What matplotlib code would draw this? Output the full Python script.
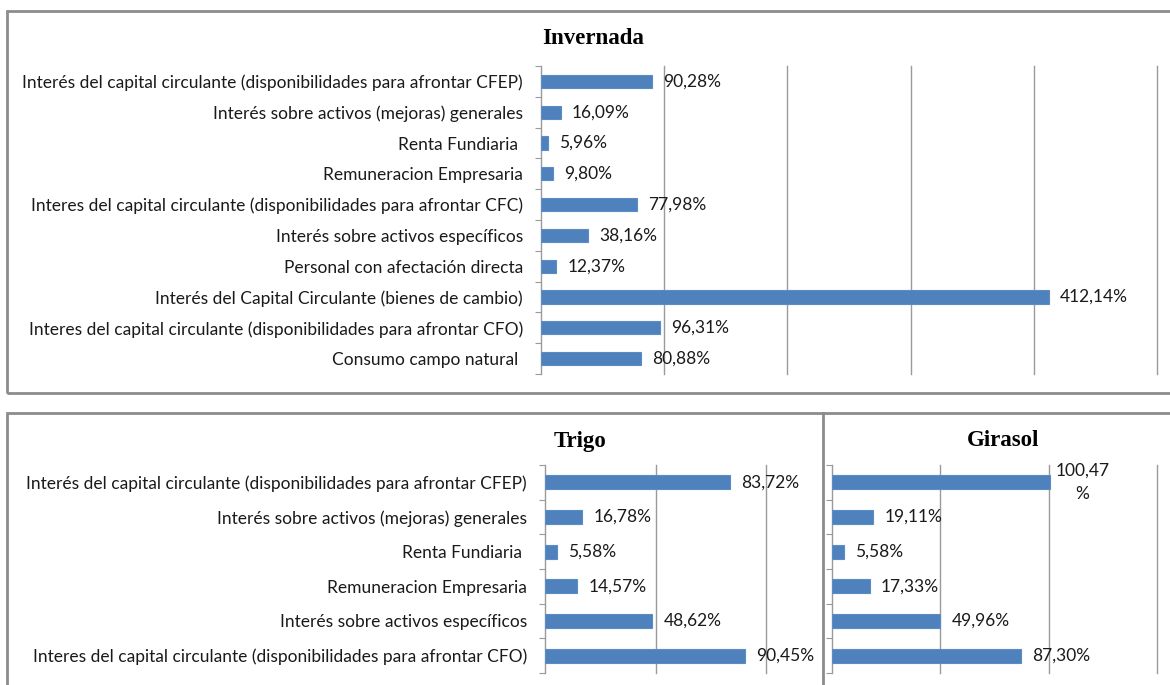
import matplotlib
matplotlib.use("Agg")
import matplotlib.pyplot as plt
from matplotlib.patches import Rectangle
from matplotlib.lines import Line2D

W, H = 1170, 685
DPI = 100

# ---------------- data ----------------
inv_categories = [
    "Interés del capital circulante (disponibilidades para afrontar CFEP)",
    "Interés sobre activos (mejoras) generales",
    "Renta Fundiaria ",
    "Remuneracion Empresaria",
    "Interes del capital circulante (disponibilidades para afrontar CFC)",
    "Interés sobre activos específicos",
    "Personal con afectación directa",
    "Interés del Capital Circulante (bienes de cambio)",
    "Interes del capital circulante (disponibilidades para afrontar CFO)",
    "Consumo campo natural ",
]
inv_values = [90.28, 16.09, 5.96, 9.80, 77.98, 38.16, 12.37, 412.14, 96.31, 80.88]

crop_categories = [
    "Interés del capital circulante (disponibilidades para afrontar CFEP)",
    "Interés sobre activos (mejoras) generales",
    "Renta Fundiaria ",
    "Remuneracion Empresaria",
    "Interés sobre activos específicos",
    "Interes del capital circulante (disponibilidades para afrontar CFO)",
]
trigo_values = [83.72, 16.78, 5.58, 14.57, 48.62, 90.45]
girasol_values = [100.47, 19.11, 5.58, 17.33, 49.96, 87.30]

inv_title = "Invernada"
trigo_title = "Trigo"
girasol_title = "Girasol"

BAR = "#4F81BD"
BAR_EDGE = "#5B8CC6"
GRID = "#9a9a9a"
FRAME = "#8c8c8c"
LABEL_FONT = "Lato"
TITLE_FONT = "Liberation Serif"
LFS = 12.5

fig = plt.figure(figsize=(W / DPI, H / DPI), dpi=DPI)
fig.patch.set_facecolor("white")


def px_axes(x0, y0, x1, y1):
    return fig.add_axes([x0 / W, 1 - y1 / H, (x1 - x0) / W, (y1 - y0) / H])


def fmt(v):
    return f"{v:.2f}%".replace(".", ",")


def draw_bars(ax, cats, vals, xmax, step, height, labels=True, wrap=None):
    n = len(cats)
    ys = list(range(n))
    ax.barh(ys, vals, height=height, color=BAR, edgecolor=BAR_EDGE, linewidth=0.8, zorder=3)
    ax.set_xlim(0, xmax)
    ax.set_ylim(n - 0.5, -0.5)
    ax.set_xticks([step * k for k in range(1, int(xmax / step) + 1)])
    ax.set_xticklabels([])
    ax.tick_params(axis="x", length=0)
    ax.grid(axis="x", color=GRID, linewidth=1.0, zorder=0)
    for gl in ax.get_xgridlines():
        gl.set_clip_on(False)
    ax.set_yticks(ys)
    if labels:
        ax.set_yticklabels(cats, fontsize=LFS, family=LABEL_FONT, color="#1a1a1a")
    else:
        ax.set_yticklabels([])
    ax.tick_params(axis="y", which="major", length=0, pad=13)
    ax.set_yticks([i - 0.5 for i in range(n + 1)], minor=True)
    ax.tick_params(axis="y", which="minor", length=4, width=0.8, color=GRID, direction="out")
    for s in ("top", "right", "bottom"):
        ax.spines[s].set_visible(False)
    ax.spines["left"].set_color(GRID)
    ax.spines["left"].set_linewidth(1.0)
    ax.set_facecolor("none")
    for i, v in enumerate(vals):
        txt = fmt(v)
        if wrap is not None and i in wrap:
            txt = txt[:-1] + "\n%"
            ax.annotate(txt, (v, i), xytext=(4, 0), textcoords="offset points",
                        va="center", ha="left", multialignment="center",
                        fontsize=LFS, family=LABEL_FONT, color="#1a1a1a",
                        linespacing=1.55, annotation_clip=False)
        else:
            ax.annotate(txt, (v, i), xytext=(8, 0), textcoords="offset points",
                        va="center", ha="left", fontsize=LFS, family=LABEL_FONT,
                        color="#1a1a1a", annotation_clip=False)


# ---------------- frames ----------------
def frame_rect(x0, y0, x1, y1):
    fig.patches.append(Rectangle((x0 / W, 1 - y1 / H), (x1 - x0) / W, (y1 - y0) / H,
                                 transform=fig.transFigure, fill=False,
                                 edgecolor=FRAME, linewidth=2.0, zorder=0))


frame_rect(7, 11, 1200, 393)
frame_rect(7, 413, 1200, 720)
fig.lines.append(Line2D([823 / W, 823 / W], [1 - 413 / H, 0], transform=fig.transFigure,
                        color=FRAME, linewidth=2.0))

# ---------------- Invernada ----------------
ax1 = px_axes(541, 66, 1157, 374)
draw_bars(ax1, inv_categories, inv_values, 500, 100, 0.43)
fig.text(593 / W, 1 - 39 / H, inv_title, ha="center", va="center",
         family=TITLE_FONT, fontweight="bold", fontsize=16.5)

# ---------------- Trigo ----------------
ax2 = px_axes(545, 465, 766, 673)
draw_bars(ax2, crop_categories, trigo_values, 100, 50, 0.4)
fig.text(580 / W, 1 - 441 / H, trigo_title, ha="center", va="center",
         family=TITLE_FONT, fontweight="bold", fontsize=16.5)

# ---------------- Girasol ----------------
ax3 = px_axes(832, 465, 1157, 673)
draw_bars(ax3, crop_categories, girasol_values, 150, 50, 0.4, labels=False, wrap={0})
fig.text(1003 / W, 1 - 441 / H, girasol_title, ha="center", va="center",
         family=TITLE_FONT, fontweight="bold", fontsize=16.5)

fig.savefig("out.png", dpi=DPI, facecolor="white")
